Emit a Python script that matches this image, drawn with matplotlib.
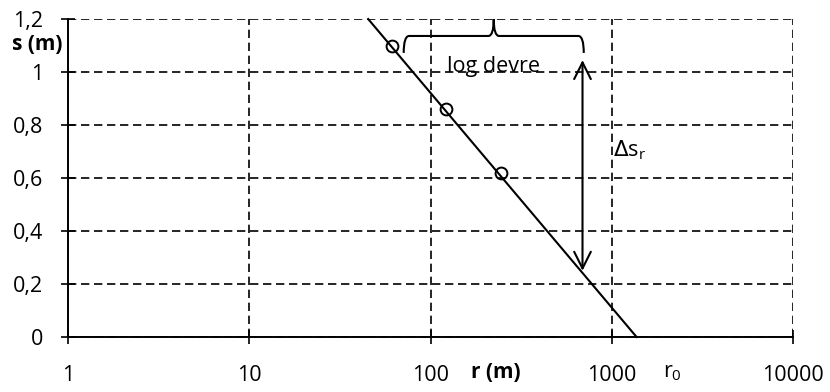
import numpy as np
import matplotlib
matplotlib.use("Agg")
import matplotlib.pyplot as plt
from matplotlib.path import Path
from matplotlib.patches import PathPatch

plt.rcParams['font.family'] = ['Open Sans', 'DejaVu Sans']

# data
point_r = [61, 121, 243]
point_s = [1.10, 0.86, 0.62]
line_r = [45.2, 1370]
line_s = [1.2, 0.0]
x_ticks = [1, 10, 100, 1000, 10000]
x_ticklabels = ["1", "10", "100", "1000", "10000"]
y_ticks = [0, 0.2, 0.4, 0.6, 0.8, 1.0, 1.2]
y_ticklabels = ["0", "0,2", "0,4", "0,6", "0,8", "1", "1,2"]
brace_r = [71, 700]        # one log cycle
brace_s = [1.072, 1.136, 1.2]
arrow_r = 689
arrow_s = [1.045, 0.25]

fig = plt.figure(figsize=(8.3, 3.92), dpi=100)
ax = fig.add_axes([0.0823, 0.1403, 0.9554 - 0.0823, 0.9515 - 0.1403])
ax.set_xscale('log')
ax.set_xlim(1, 10000)
ax.set_ylim(0, 1.2)

ax.set_xticks(x_ticks)
ax.set_xticklabels(x_ticklabels)
ax.set_yticks(y_ticks)
ax.set_yticklabels(y_ticklabels)
ax.minorticks_off()
ax.tick_params(axis='both', direction='inout', length=10, width=1.2, labelsize=15.5,
               colors='black')
ax.tick_params(axis='x', pad=15)
ax.tick_params(axis='y', pad=13)

ax.grid(True, color='black', linestyle=(0, (5, 2.8)), linewidth=1.2)
ax.set_axisbelow(True)
for side in ['top', 'right']:
    ax.spines[side].set_visible(False)
for side in ['left', 'bottom']:
    ax.spines[side].set_linewidth(1.4)
    ax.spines[side].set_zorder(3)

ax.plot(line_r, line_s, color='black', lw=1.5, zorder=4, clip_on=False)
ax.plot(point_r, point_s, 'o', mfc='none', mec='black', ms=8.5, mew=1.4, zorder=5)

# brace
uL, uR = np.log10(brace_r[0]), np.log10(brace_r[1])
uM = 0.5 * (uL + uR)
d = 0.03
sb, sh, st = brace_s
verts_u = [(uL, sb), (uL, sh), (uL + d, sh), (uM - d, sh), (uM, sh), (uM, st),
           (uM, sh), (uM + d, sh), (uR - d, sh), (uR, sh), (uR, sb)]
codes = [Path.MOVETO, Path.CURVE3, Path.CURVE3, Path.LINETO, Path.CURVE3, Path.CURVE3,
         Path.CURVE3, Path.CURVE3, Path.LINETO, Path.CURVE3, Path.CURVE3]
verts = [(10 ** u, s) for u, s in verts_u]
ax.add_patch(PathPatch(Path(verts, codes), facecolor='none', edgecolor='black',
                       lw=1.5, zorder=5, clip_on=False))
ax.text(10 ** uM, 1.02, "log devre", ha='center', va='center', fontsize=15.5, zorder=6)

# delta s arrow
ax.annotate("", xy=(arrow_r, arrow_s[1]), xytext=(arrow_r, arrow_s[0]),
            arrowprops=dict(arrowstyle='<->,head_length=0.6,head_width=0.3',
                            color='black', lw=1.5, shrinkA=0, shrinkB=0,
                            mutation_scale=20), zorder=6)
ax.text(1015, 0.705, r"$\Delta$s$_\mathregular{r}$", ha='left', va='center',
        fontsize=15.5, zorder=6)

# axis labels
fig.text(12 / 830, 1 - 44 / 392, "s (m)", fontsize=15, fontweight='bold',
         ha='left', va='center')
fig.text(496 / 830, 1 - 372 / 392, "r (m)", fontsize=15, fontweight='bold',
         ha='center', va='center')
fig.text(663 / 830, 1 - 372 / 392, r"r$_\mathregular{0}$", fontsize=15.5,
         ha='left', va='center')

fig.savefig("out.png", dpi=100)
